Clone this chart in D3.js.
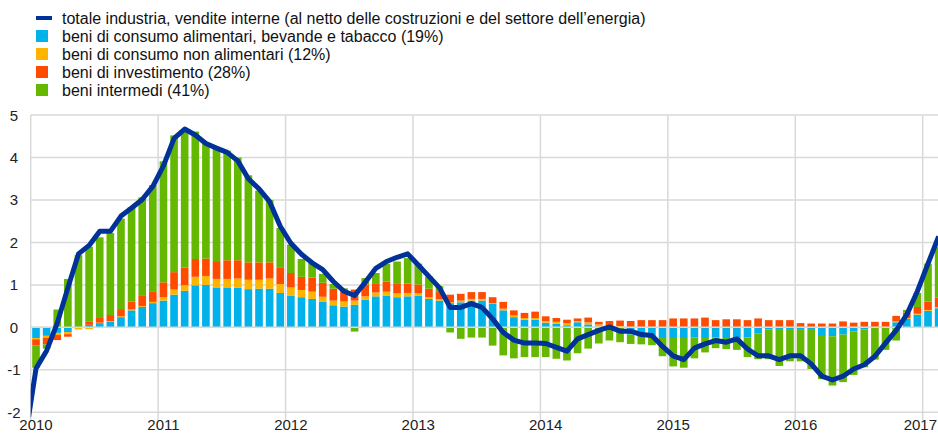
<!DOCTYPE html>
<html><head><meta charset="utf-8">
<script src="https://cdn.jsdelivr.net/npm/d3@7"></script>
<style>
html,body{margin:0;padding:0;background:#fff;}
svg{display:block;font-family:Arial,"Liberation Sans",sans-serif;}
</style></head>
<body>
<svg id="chart" width="938" height="434"></svg>
<script>
// ---- DATA ----
const startYear = 2010;           // first bar = Jan 2010, last = Feb 2017
const yearLabels = ["2010","2011","2012","2013","2014","2015","2016","2017"];
const yTicks = [-2,-1,0,1,2,3,4,5];

const seriesNames = [
  "totale industria, vendite interne (al netto delle costruzioni e del settore dell\u2019energia)",
  "beni di consumo alimentari, bevande e tabacco (19%)",
  "beni di consumo non alimentari (12%)",
  "beni di investimento (28%)",
  "beni intermedi (41%)"
];

// beni di consumo alimentari
const food = [
 -0.25,-0.20,-0.13,-0.11,-0.01,0.06,0.10,0.14,0.24,0.40,0.48,0.57,
 0.63,0.77,0.86,0.99,1.00,0.94,0.94,0.93,0.90,0.91,0.91,0.81,
 0.75,0.71,0.67,0.60,0.52,0.49,0.53,0.65,0.73,0.75,0.71,0.73,
 0.75,0.67,0.63,0.57,0.59,0.63,0.63,0.55,0.40,0.24,0.18,0.18,
 0.11,0.09,0.05,0.12,0.07,0.02,0.01,0.01,-0.17,-0.18,-0.18,-0.25,
 -0.25,-0.25,-0.24,-0.25,-0.24,-0.25,-0.25,-0.24,-0.14,-0.05,-0.06,-0.06,
 -0.04,-0.06,-0.18,-0.21,-0.17,-0.10,-0.05,-0.01,0.00,0.12,0.20,0.30,
 0.39,0.45];
// beni di consumo non alimentari
const nonFood = [
 -0.03,-0.05,-0.05,-0.05,-0.04,-0.04,0.01,0.01,0.02,0.02,0.02,0.03,
 0.08,0.12,0.13,0.20,0.21,0.20,0.20,0.22,0.22,0.21,0.24,0.21,
 0.19,0.17,0.17,0.12,0.11,0.12,0.10,0.08,0.09,0.09,0.09,0.08,
 0.05,0.04,0.03,0.02,0.04,0.04,0.04,0.02,0.04,0.04,0.04,0.04,
 0.04,0.04,0.05,0.03,0.05,0.05,0.03,0.02,0.01,0.01,0.01,0.01,
 0.01,0.01,0.01,0.01,0.01,0.01,0.01,0.01,0.01,0.01,0.01,0.01,
 0.01,0.01,0.01,0.01,0.01,0.01,0.01,0.01,0.01,0.02,0.02,0.02,
 0.02,0.03];
// beni di investimento
const invest = [
 -0.14,-0.15,-0.12,-0.06,0.00,0.07,0.13,0.14,0.17,0.19,0.24,0.25,
 0.35,0.41,0.42,0.42,0.41,0.42,0.44,0.43,0.41,0.41,0.38,0.38,
 0.34,0.31,0.33,0.33,0.28,0.29,0.26,0.28,0.22,0.24,0.24,0.22,
 0.21,0.20,0.17,0.18,0.16,0.16,0.16,0.14,0.16,0.12,0.12,0.15,
 0.11,0.09,0.08,0.06,0.11,0.06,0.11,0.13,0.14,0.16,0.16,0.16,
 0.20,0.20,0.20,0.22,0.16,0.18,0.18,0.16,0.20,0.16,0.16,0.16,
 0.09,0.08,0.08,0.08,0.13,0.10,0.12,0.12,0.12,0.13,0.13,0.16,
 0.20,0.22];
// beni intermedi
const intermediate = [
 -0.53,-0.10,0.42,1.14,1.70,1.77,1.88,1.93,2.13,2.22,2.32,2.50,
 2.85,3.22,3.21,3.00,2.73,2.68,2.58,2.42,2.05,1.69,1.47,0.94,
 0.67,0.42,0.35,0.21,0.11,0.02,-0.10,0.15,0.24,0.42,0.51,0.60,
 0.49,0.29,0.14,-0.12,-0.27,-0.24,-0.24,-0.43,-0.66,-0.73,-0.70,-0.70,
 -0.70,-0.74,-0.78,-0.61,-0.50,-0.38,-0.31,-0.35,-0.22,-0.22,-0.24,-0.43,
 -0.67,-0.70,-0.49,-0.34,-0.25,-0.26,-0.28,-0.46,-0.61,-0.70,-0.85,-0.74,
 -0.76,-0.92,-1.04,-1.16,-1.12,-1.02,-0.89,-0.75,-0.53,-0.31,0.06,0.33,
 0.89,1.20];
// totale industria (line); first value is Dec 2009
const totalPrev = -2.6;
const total = [
 -0.97,-0.55,0.10,0.93,1.73,1.93,2.26,2.26,2.62,2.81,3.01,3.32,
 3.80,4.45,4.67,4.53,4.33,4.22,4.12,3.92,3.50,3.26,2.96,2.38,
 1.98,1.72,1.52,1.36,1.08,0.85,0.75,1.06,1.39,1.55,1.65,1.73,
 1.47,1.20,0.93,0.47,0.47,0.56,0.47,0.20,-0.12,-0.30,-0.37,-0.37,
 -0.38,-0.47,-0.56,-0.27,-0.17,-0.07,0.01,-0.09,-0.09,-0.17,-0.19,-0.45,
 -0.67,-0.76,-0.49,-0.39,-0.31,-0.35,-0.27,-0.51,-0.67,-0.67,-0.76,-0.67,
 -0.67,-0.86,-1.15,-1.24,-1.15,-0.98,-0.88,-0.68,-0.37,-0.07,0.30,0.85,
 1.50,2.14];

const colors = {line:"#003299", food:"#00B1EA", nonFood:"#FFB400", invest:"#FF4B00", intermediate:"#65B800"};

// ---- CHART ----
const W = 938, H = 434;
const plot = {left:30.7, right:938, top:115, bottom:412.3};
const svg = d3.select("#chart");

const x = d3.scaleLinear().domain([0, 84]).range([plot.left, 922.7]);
const step = x(1) - x(0);
const y = d3.scaleLinear().domain([-2, 5]).range([plot.bottom, plot.top]);

const rows = food.map((v,i)=>({i, food:v, nonFood:nonFood[i], invest:invest[i], intermediate:intermediate[i]}));
const keys = ["food","nonFood","invest","intermediate"];
const stack = d3.stack().keys(keys).offset(d3.stackOffsetDiverging).order(d3.stackOrderNone);
const stacked = stack(rows);

svg.append("defs").append("clipPath").attr("id","clip")
  .append("rect").attr("x", plot.left).attr("y", plot.top - 5)
  .attr("width", plot.right - plot.left).attr("height", plot.bottom - plot.top + 10);

const grid = svg.append("g");
grid.selectAll("line.h").data(yTicks).join("line")
  .attr("x1", plot.left).attr("x2", plot.right)
  .attr("y1", d=>y(d)).attr("y2", d=>y(d))
  .attr("stroke", "#d9d9d9").attr("stroke-width", 1.5);
grid.selectAll("line.v").data(yearLabels).join("line")
  .attr("x1", (d,k)=>x(k*12)).attr("x2", (d,k)=>x(k*12))
  .attr("y1", plot.top).attr("y2", plot.bottom + 8)
  .attr("stroke", "#d9d9d9").attr("stroke-width", 1.5);

const bw = step * 0.72;
const barsG = svg.append("g").attr("clip-path","url(#clip)");
barsG.selectAll("g.s").data(stacked).join("g")
  .attr("fill", d=>colors[d.key])
  .selectAll("rect").data(d=>d).join("rect")
  .attr("x", d=>x(d.data.i + 0.5) - bw/2)
  .attr("width", bw)
  .attr("y", d=>y(Math.max(d[0], d[1])))
  .attr("height", d=>Math.abs(y(d[0]) - y(d[1])));

svg.append("line").attr("x1", plot.left).attr("x2", plot.right)
  .attr("y1", y(0)).attr("y2", y(0)).attr("stroke", "#d9d9d9").attr("stroke-width", 1.5);

const lineData = [{i:-1, v:totalPrev}].concat(total.map((v,i)=>({i, v})));
const line = d3.line().x(d=>x(d.i + 0.5)).y(d=>y(d.v));
svg.append("g").attr("clip-path","url(#clip)")
  .append("path").datum(lineData).attr("d", line)
  .attr("fill","none").attr("stroke", colors.line).attr("stroke-width", 5)
  .attr("stroke-linejoin","round");

svg.append("g").selectAll("text").data(yTicks).join("text")
  .attr("x", 14).attr("y", d=>y(d) + 5.5)
  .attr("text-anchor","middle").attr("font-size", 15).attr("fill","#222")
  .text(d=>d);
const xl = svg.append("g").selectAll("text").data(yearLabels).join("text")
  .attr("y", 430)
  .attr("text-anchor","middle").attr("font-size", 15).attr("fill","#222")
  .text(d=>d);
xl.each(function(d,k){
  const wText = this.getComputedTextLength();
  const cx = Math.min(x(k*12 + 0.5), W - wText/2 - 1);
  d3.select(this).attr("x", cx);
});

const legendColors = [colors.line, colors.food, colors.nonFood, colors.invest, colors.intermediate];
const lg = svg.append("g");
seriesNames.forEach((name, k)=>{
  const cy = 18 + k*18;
  if (k === 0) {
    lg.append("rect").attr("x", 36).attr("y", cy - 2).attr("width", 16).attr("height", 4).attr("fill", legendColors[k]);
  } else {
    lg.append("rect").attr("x", 36).attr("y", cy - 6).attr("width", 12).attr("height", 12).attr("fill", legendColors[k]);
  }
  lg.append("text").attr("x", 62).attr("y", cy + 5.5).attr("font-size", 16).attr("fill","#111").text(name);
});
</script>
</body></html>
